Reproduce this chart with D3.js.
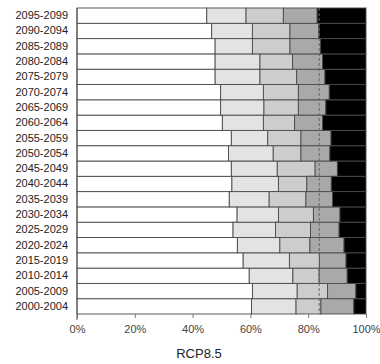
<!DOCTYPE html>
<html><head><meta charset="utf-8">
<script src="https://cdn.jsdelivr.net/npm/d3@7"></script>
<style>body{margin:0;background:#fff}svg{display:block}</style>
</head><body>
<script>
const categories = ["2000-2004","2005-2009","2010-2014","2015-2019","2020-2024","2025-2029","2030-2034","2035-2039","2040-2044","2045-2049","2050-2054","2055-2059","2060-2064","2065-2069","2070-2074","2075-2079","2080-2084","2085-2089","2090-2094","2095-2099"];
const series1 = [60.4,60.7,59.6,57.5,55.5,54.0,55.4,52.7,53.6,53.4,52.4,53.4,50.3,49.7,49.7,47.8,47.8,47.8,46.6,44.9];
const series2 = [15.4,15.5,15.1,16.0,14.7,14.7,14.3,13.8,16.1,15.9,15.5,12.6,14.2,15.0,14.8,15.5,15.5,12.9,14.1,13.6];
const series3 = [8.6,10.5,9.1,10.4,10.4,12.1,12.1,12.7,9.8,13.1,9.6,11.5,10.8,11.9,12.1,12.7,11.3,13.0,13.0,12.9];
const series4 = [11.4,9.8,9.7,9.2,11.8,9.9,9.2,9.2,8.5,7.7,10.0,10.4,9.7,9.5,10.7,9.8,10.4,10.6,10.0,11.7];
const series5 = [4.2,3.5,6.5,6.9,7.6,9.3,9.0,11.6,12.0,9.9,12.5,12.1,15.0,13.9,12.7,14.2,15.0,15.7,16.3,16.9];
const seriesColors = ["#ffffff","#e5e2e3","#cecdcd","#a9a9a9","#000000"];
const xTicks = [0,20,40,60,80,100];
const refLine = 83.8;
const title = "RCP8.5";

const W = 380, H = 364;
const svg = d3.select("body").append("svg").attr("width", W).attr("height", H);
const x = d3.scaleLinear().domain([0,100]).range([77,366]);
const y = d3.scaleBand().domain(categories.slice().reverse()).range([8,314]).padding(0);

const allSeries = [series1,series2,series3,series4,series5];
const rows = categories.map((c,i)=>{const o={cat:c}; allSeries.forEach((s,k)=>o["s"+k]=s[i]); return o;});
const stack = d3.stack().keys(allSeries.map((_,k)=>"s"+k))(rows);

svg.append("g").selectAll("g").data(stack).join("g")
  .attr("fill",(d,k)=>seriesColors[k])
  .selectAll("rect").data(d=>d).join("rect")
  .attr("x",d=>x(d[0])).attr("width",d=>x(d[1])-x(d[0]))
  .attr("y",d=>y(d.data.cat)).attr("height",y.bandwidth())
  .attr("stroke","#4a4a4a").attr("stroke-width",0.9);

svg.append("line").attr("x1",x(refLine)).attr("x2",x(refLine))
  .attr("y1",8).attr("y2",314)
  .attr("stroke","#666").attr("stroke-width",1).attr("stroke-dasharray","3,2");

const xa = svg.append("g").attr("transform","translate(0,314)")
  .call(d3.axisBottom(x).tickValues(xTicks).tickFormat(d=>d+"%").tickSize(4).tickSizeOuter(0));
xa.select(".domain").remove();
xa.selectAll("line").attr("stroke","#777");
xa.selectAll("text").attr("font-family","Liberation Sans, Arial, sans-serif").attr("font-size",11).attr("fill","#444").attr("dy","1.1em");

svg.append("line").attr("x1",77).attr("x2",77).attr("y1",8).attr("y2",320).attr("stroke","#555").attr("stroke-width",1);

const ya = svg.append("g").attr("transform","translate(77,0)")
  .call(d3.axisLeft(y).tickSize(0).tickPadding(9));
ya.select(".domain").remove();
ya.selectAll("text").attr("font-family","Liberation Sans, Arial, sans-serif").attr("font-size",11).attr("fill","#222");

svg.append("text").attr("x",199).attr("y",358).attr("text-anchor","middle")
  .attr("font-family","Liberation Sans, Arial, sans-serif").attr("font-size",13).attr("fill","#222").text(title);
</script>
</body></html>
